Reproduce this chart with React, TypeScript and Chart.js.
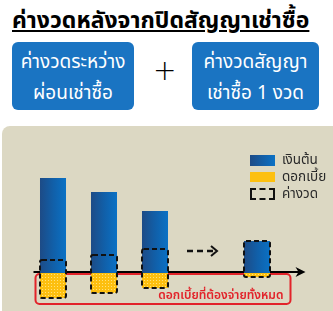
import React, { useEffect, useRef } from "react";
import { Chart, registerables } from "chart.js";
Chart.register(...registerables);

const categories = ["1", "2", "3", "", "n"];
const principal = [95, 81, 62, null, 32];
const interest = [25, 20, 15, null, 4];
const installmentPrincipal = [13, 18, 24, null, 32];
const legendLabels = ["เงินต้น", "ดอกเบี้ย", "ค่างวด"];
const titleText = "ค่างวดหลังจากปิดสัญญาเช่าซื้อ";
const boxLeft = ["ค่างวดระหว่าง", "ผ่อนเช่าซื้อ"];
const boxRight = ["ค่างวดสัญญา", "เช่าซื้อ 1 งวด"];
const interestNote = "ดอกเบี้ยที่ต้องจ่ายทั้งหมด";
const arrowLevel = 22;
const noteBoxBottom = -31;
const yMin = -38;
const yMax = 110;

const FONT = "Tahoma, 'Noto Sans Thai', 'Noto Sans', 'DejaVu Sans', sans-serif";

function makeYellowPattern(): CanvasPattern | string {
  const c = document.createElement("canvas");
  c.width = 3;
  c.height = 3;
  const g = c.getContext("2d");
  if (!g) return "#fdc010";
  g.fillStyle = "#fdbf0f";
  g.fillRect(0, 0, 3, 3);
  g.fillStyle = "#ffe27a";
  g.fillRect(1, 1, 1, 1);
  return g.createPattern(c, "repeat") || "#fdc010";
}

export default function App() {
  const ref = useRef<HTMLCanvasElement | null>(null);

  useEffect(() => {
    if (!ref.current) return;
    const yellow = makeYellowPattern();

    const blueGrad = (c: any) => {
      const chart = c.chart;
      const xs = chart.scales && chart.scales.x;
      if (!chart.chartArea || !xs) return "#115fa8";
      const x = xs.getPixelForValue(c.dataIndex);
      const g = chart.ctx.createLinearGradient(x - 13, 0, x + 13, 0);
      g.addColorStop(0, "#1d4b86");
      g.addColorStop(0.5, "#115fa8");
      g.addColorStop(1, "#0a71c5");
      return g;
    };

    const deco = {
      id: "deco",
      beforeDatasetsDraw(chart: any) {
        const { ctx, chartArea, scales } = chart;
        const y0 = scales.y.getPixelForValue(0);
        const yb = scales.y.getPixelForValue(noteBoxBottom);
        const l = chartArea.left + 8;
        const r = chartArea.right + 8;
        ctx.save();
        ctx.strokeStyle = "#e2232a";
        ctx.lineWidth = 2;
        ctx.beginPath();
        ctx.roundRect(l, y0 + 1, r - l, yb - y0 - 1, 4);
        ctx.stroke();
        ctx.fillStyle = "#e2232a";
        ctx.font = `600 12px ${FONT}`;
        ctx.textAlign = "right";
        ctx.textBaseline = "alphabetic";
        ctx.fillText(interestNote, r - 7, yb - 5);
        // axis
        ctx.strokeStyle = "#000";
        ctx.lineWidth = 2;
        ctx.beginPath();
        ctx.moveTo(chartArea.left + 6, y0 - 1);
        ctx.lineTo(chartArea.right + 18, y0 - 1);
        ctx.stroke();
        const tip = chartArea.right + 23;
        ctx.fillStyle = "#000";
        ctx.beginPath();
        ctx.moveTo(tip, y0 - 1);
        ctx.lineTo(tip - 10, y0 - 6);
        ctx.lineTo(tip - 7, y0 - 1);
        ctx.lineTo(tip - 10, y0 + 4);
        ctx.closePath();
        ctx.fill();
        ctx.restore();
      },
      afterDatasetsDraw(chart: any) {
        const { ctx, scales } = chart;
        const meta = chart.getDatasetMeta(2);
        ctx.save();
        ctx.strokeStyle = "#111";
        ctx.lineWidth = 2;
        ctx.setLineDash([5, 3]);
        meta.data.forEach((el: any, i: number) => {
          if (installmentPrincipal[i] == null) return;
          const p = el.getProps(["x", "y", "base", "width"], true);
          const top = Math.min(p.y, p.base);
          const bot = Math.max(p.y, p.base);
          ctx.beginPath();
          ctx.roundRect(p.x - p.width / 2, top, p.width, bot - top, 2);
          ctx.stroke();
        });
        // dashed progress arrow at the gap category
        const cx = scales.x.getPixelForValue(3);
        const ya = scales.y.getPixelForValue(arrowLevel);
        ctx.setLineDash([6, 4]);
        ctx.lineWidth = 2.5;
        ctx.beginPath();
        ctx.moveTo(cx - 19, ya);
        ctx.lineTo(cx + 9, ya);
        ctx.stroke();
        ctx.setLineDash([]);
        ctx.lineWidth = 2;
        ctx.beginPath();
        ctx.moveTo(cx + 5, ya - 5);
        ctx.lineTo(cx + 11, ya);
        ctx.lineTo(cx + 5, ya + 5);
        ctx.stroke();
        ctx.restore();
      },
    };

    const common = {
      grouped: false,
      barPercentage: 0.51,
      categoryPercentage: 1,
      borderWidth: 0,
      borderSkipped: false,
    };

    const chart = new Chart(ref.current, {
      type: "bar",
      data: {
        labels: categories,
        datasets: [
          {
            label: legendLabels[0],
            data: principal.map((v) => (v == null ? null : [0, v])) as any,
            backgroundColor: blueGrad as any,
            ...common,
          },
          {
            label: legendLabels[1],
            data: interest.map((v) => (v == null ? null : [-v, 0])) as any,
            backgroundColor: yellow as any,
            ...common,
          },
          {
            label: legendLabels[2],
            data: installmentPrincipal.map((v, i) =>
              v == null ? null : [-(interest[i] as number), v]
            ) as any,
            backgroundColor: "rgba(0,0,0,0)",
            ...common,
          },
        ],
      },
      options: {
        responsive: false,
        maintainAspectRatio: false,
        animation: false,
        layout: { padding: { left: 25.5, right: 50.5, top: 37, bottom: 0 } },
        scales: {
          x: { display: false, offset: true },
          y: { display: false, min: yMin, max: yMax },
        },
        plugins: { legend: { display: false }, tooltip: { enabled: false } },
      },
      plugins: [deco],
    });
    return () => chart.destroy();
  }, []);

  const boxStyle: React.CSSProperties = {
    position: "absolute",
    top: 42,
    height: 68,
    background: "#1a74c2",
    borderRadius: 6,
    color: "#fff",
    fontFamily: FONT,
    fontSize: 19,
    lineHeight: "31px",
    textAlign: "center",
    display: "flex",
    flexDirection: "column",
    justifyContent: "center",
    paddingTop: 3,
    boxSizing: "border-box",
  };
  const legendText: React.CSSProperties = {
    position: "absolute",
    left: 282,
    fontFamily: FONT,
    fontSize: 13.5,
    color: "#2a2a2a",
    lineHeight: "14px",
  };

  return (
    <div
      style={{
        position: "fixed",
        left: 0,
        top: 0,
        width: 333,
        height: 311,
        overflow: "hidden",
        background: "#fff",
      }}
    >
      <div
        style={{
          position: "absolute",
          left: 12,
          top: 4,
          fontFamily: FONT,
          fontWeight: "bold",
          fontSize: 23,
          lineHeight: "34px",
          color: "#000",
          textDecoration: "underline",
          whiteSpace: "nowrap",
        }}
      >
        {titleText}
      </div>
      <div style={{ ...boxStyle, left: 12, width: 122 }}>
        <div>{boxLeft[0]}</div>
        <div>{boxLeft[1]}</div>
      </div>
      <div
        style={{
          position: "absolute",
          left: 153,
          top: 56,
          fontFamily: "'DejaVu Sans', sans-serif",
          fontSize: 28,
          fontWeight: 200,
          lineHeight: "30px",
          color: "#000",
        }}
      >
        +
      </div>
      <div style={{ ...boxStyle, left: 192, width: 127 }}>
        <div>{boxRight[0]}</div>
        <div>{boxRight[1]}</div>
      </div>
      <div
        style={{
          position: "absolute",
          left: 2,
          top: 126,
          width: 340,
          height: 200,
          background: "#dcd8c3",
          borderTopLeftRadius: 8,
        }}
      />
      <canvas
        ref={ref}
        width={331}
        height={185}
        style={{ position: "absolute", left: 2, top: 126, width: 331, height: 185 }}
      />
      <div
        style={{
          position: "absolute",
          left: 250,
          top: 155,
          width: 25,
          height: 11,
          background: "linear-gradient(90deg, #1d4b86, #0a71c5)",
        }}
      />
      <div style={{ ...legendText, top: 153 }}>{legendLabels[0]}</div>
      <div
        style={{
          position: "absolute",
          left: 250,
          top: 172,
          width: 25,
          height: 10,
          background: "#fdc010",
        }}
      />
      <div style={{ ...legendText, top: 170 }}>{legendLabels[1]}</div>
      <div
        style={{
          position: "absolute",
          left: 250,
          top: 188,
          width: 21,
          height: 8,
          border: "2px dashed #111",
        }}
      />
      <div style={{ ...legendText, top: 187 }}>{legendLabels[2]}</div>
    </div>
  );
}
